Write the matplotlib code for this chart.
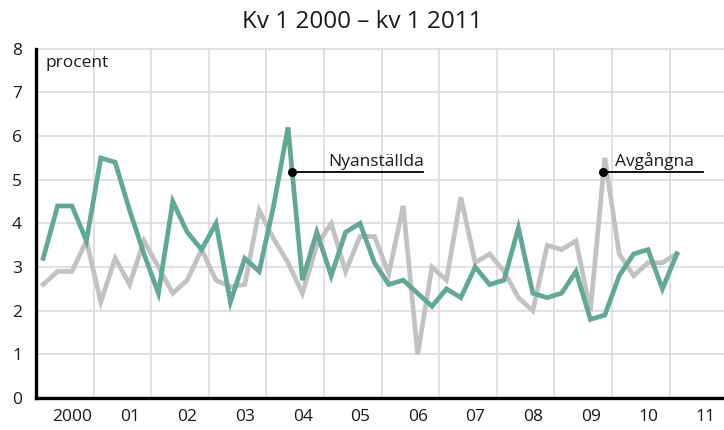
import matplotlib
matplotlib.use("Agg")
import matplotlib.pyplot as plt
import numpy as np

plt.rcParams['font.family'] = ['Open Sans', 'DejaVu Sans']

# Quarterly data, Q1 2000 - Q1 2011
nyanstallda = [3.2, 4.4, 4.4, 3.6, 5.5, 5.4, 4.3, 3.3,
               2.4, 4.5, 3.8, 3.4, 4.0, 2.2, 3.2, 2.9,
               4.4, 6.2, 2.7, 3.8, 2.8, 3.8, 4.0, 3.1,
               2.6, 2.7, 2.4, 2.1, 2.5, 2.3, 3.0, 2.6,
               2.7, 3.9, 2.4, 2.3, 2.4, 2.9, 1.8, 1.9,
               2.8, 3.3, 3.4, 2.5, 3.3]
avgangna = [2.6, 2.9, 2.9, 3.6, 2.2, 3.2, 2.6, 3.6,
            3.0, 2.4, 2.7, 3.4, 2.7, 2.55, 2.6, 4.3,
            3.65, 3.1, 2.4, 3.5, 4.0, 2.9, 3.7, 3.7,
            2.85, 4.4, 1.0, 3.0, 2.7, 4.6, 3.1, 3.3,
            2.9, 2.3, 2.0, 3.5, 3.4, 3.6, 2.0, 5.5,
            3.3, 2.8, 3.1, 3.1, 3.3]
years = list(range(2000, 2012))
year_labels = ['2000', '01', '02', '03', '04', '05', '06', '07', '08', '09', '10', '11']
title = 'Kv 1 2000 – kv 1 2011'

n = len(nyanstallda)
x = np.array([2000 + (i // 4) + ((i % 4) + 0.5) / 4 for i in range(n)])

green = '#62a797'
gray = '#c2c2c2'
gridc = '#dcdcdc'

fig = plt.figure(figsize=(7.24, 4.30), dpi=100)
ax = fig.add_axes([36 / 724, 1 - 398 / 430, (724 - 36) / 724, (398 - 48.8) / 430])

ax.set_xlim(2000, 2000 + 688 / 57.6)
ax.set_ylim(0, 8)

ax.plot(x, avgangna, color=gray, lw=3.4, zorder=3, solid_joinstyle='miter')
ax.plot(x, nyanstallda, color=green, lw=3.4, zorder=4, solid_joinstyle='miter')

# grid
ax.set_xticks(years[1:])
ax.set_xticklabels([])
ax.set_xticks([y + 0.63 for y in years], minor=True)
ax.set_xticklabels(year_labels, minor=True)
ax.set_yticks(range(0, 9))
ax.tick_params(axis='both', which='both', length=0, labelsize=12.5, colors='#1a1a1a')
ax.tick_params(axis='x', which='minor', pad=8)
ax.tick_params(axis='y', pad=10)
ax.grid(True, which='major', color=gridc, lw=1.2, zorder=1)
for gl in ax.get_ygridlines() + ax.get_xgridlines():
    gl.set_clip_on(False)

for s in ['top', 'right']:
    ax.spines[s].set_visible(False)
for s in ['left', 'bottom']:
    ax.spines[s].set_linewidth(2.4)
    ax.spines[s].set_color('black')
    ax.spines[s].set_zorder(5)

ax.text(2000.16, 7.58, 'procent', fontsize=12.5, color='#1a1a1a', va='baseline', ha='left')

# annotations
ann_y = 5.18
ax.plot([2004.44, 2006.72], [ann_y, ann_y], color='black', lw=1.3, zorder=6)
ax.plot([2004.44], [ann_y], 'o', color='black', ms=5.5, zorder=7)
ax.text(2005.07, 5.31, 'Nyanställda', fontsize=12.5, color='#1a1a1a', va='baseline', ha='left', zorder=7)

ax.plot([2009.85, 2011.58], [ann_y, ann_y], color='black', lw=1.3, zorder=6, clip_on=False)
ax.plot([2009.85], [ann_y], 'o', color='black', ms=5.5, zorder=7)
ax.text(2010.05, 5.31, 'Avgångna', fontsize=12.5, color='#1a1a1a', va='baseline', ha='left', zorder=7)

fig.text(0.5, 1 - 28.3 / 430, title, fontsize=17.5, ha='center', va='baseline', color='#1a1a1a')

fig.savefig('out.png', dpi=100)
